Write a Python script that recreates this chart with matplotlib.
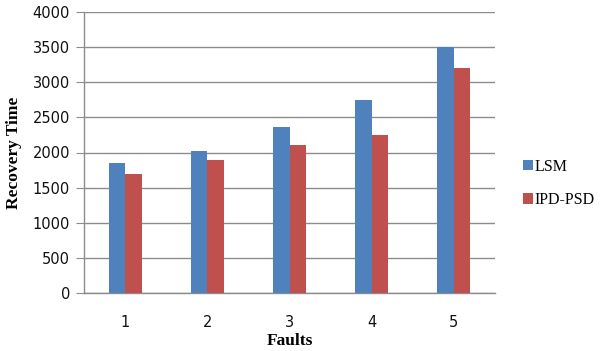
import matplotlib

matplotlib.use("Agg")
import matplotlib.pyplot as plt
import numpy as np

faults = ["1", "2", "3", "4", "5"]
lsm = [1850, 2020, 2360, 2750, 3500]
ipd_psd = [1700, 1900, 2100, 2250, 3200]

BLUE = "#4F81BD"
RED = "#C0504D"
GRID = "#8C8C8C"

fig = plt.figure(figsize=(6.0, 3.51), dpi=100)
ax = fig.add_axes([84 / 600, 1 - 293 / 351, 411 / 600, 281 / 351])

x = np.arange(1, len(faults) + 1)
w = 0.2
ax.bar(x - w / 2, lsm, w, color=BLUE, label="LSM", zorder=3)
ax.bar(x + w / 2, ipd_psd, w, color=RED, label="IPD-PSD", zorder=3)

ax.set_xlim(0.5, 5.5)
ax.set_ylim(0, 4000)
ax.set_yticks(np.arange(0, 4001, 500))
ax.set_xticks(x)
ax.set_xticklabels(faults)

ax.grid(True, axis="y", color=GRID, lw=1.0, zorder=0)
for s in ["top", "right"]:
    ax.spines[s].set_visible(False)
ax.spines["left"].set_color(GRID)
ax.spines["bottom"].set_color(GRID)
ax.spines["left"].set_linewidth(1.0)
ax.spines["bottom"].set_linewidth(1.0)
ax.tick_params(axis="y", length=6, color=GRID, labelsize=10.5, labelcolor="#111111", pad=4)
ax.tick_params(axis="x", length=0, labelsize=10.5, labelcolor="#111111", pad=16)

serif_bold = dict(family="Liberation Serif", fontweight="bold", fontsize=12.5)
ax.set_ylabel("Recovery Time", labelpad=8, **serif_bold)
ax.set_xlabel("Faults", labelpad=2, **serif_bold)

leg = ax.legend(loc="center left", bbox_to_anchor=(1.068, 0.39), frameon=False,
                prop=dict(family="Liberation Serif", size=11.5), handlelength=0.6,
                handleheight=0.6, handletextpad=0.15, labelspacing=1.1,
                borderaxespad=0.0, borderpad=0.0)

fig.savefig("out.png", dpi=100)
